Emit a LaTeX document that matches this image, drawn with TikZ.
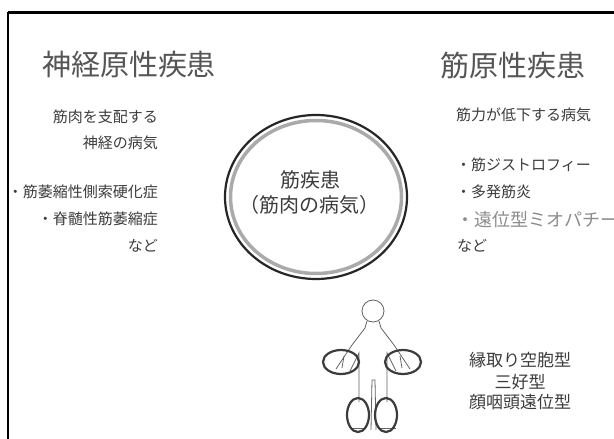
\documentclass[tikz,border=0pt]{standalone}
\usepackage{fontspec}
\setmainfont{Noto Sans CJK JP}
\usetikzlibrary{positioning}
\definecolor{textgray}{RGB}{60,60,60}
\definecolor{titlegray}{RGB}{85,85,85}
\definecolor{ringgray}{RGB}{170,170,170}
\definecolor{palegray}{RGB}{140,140,140}

\begin{document}
\begin{tikzpicture}[x=1pt, y=-1pt,
    title/.style={text=titlegray, font=\fontsize{29}{32}\selectfont, inner sep=0pt},
    note/.style={text=textgray, font=\fontsize{15}{18}\selectfont, inner sep=0pt},
    bignote/.style={text=textgray, font=\fontsize{20}{24}\selectfont, inner sep=0pt},
    outline/.style={draw=textgray!80, line width=0.8pt},
    marker/.style={draw=textgray, line width=2.2pt},
    ring/.style={draw=black!85, line width=2.2pt}]
  \useasboundingbox (0,0) rectangle (614,439);
  \fill[white] (0,0) rectangle (614,439);
  \draw[line width=3pt] (8,12) -- (620,12);
  \draw[line width=2pt] (8,12) -- (8,445);

  % left column
  \node[title] (neuroTitle) at (129,65) {神経原性疾患};
  \node[note, anchor=east] (neuroA) at (158,117) {筋肉を支配する};
  \node[note, anchor=east] (neuroB) at (158,143) {神経の病気};
  \node[note, anchor=east] (neuroC) at (158,192) {・筋萎縮性側索硬化症};
  \node[note, anchor=east] (neuroD) at (158,219) {・脊髄性筋萎縮症};
  \node[note, anchor=east] (neuroE) at (158,246) {など};

  % right column
  \node[title] (myoTitle) at (513,65) {筋原性疾患};
  \node[note, anchor=west] (myoA) at (456,115) {筋力が低下する病気};
  \node[note, anchor=west] (myoB) at (456,165) {・筋ジストロフィー};
  \node[note, anchor=west] (myoC) at (456,192) {・多発筋炎};
  \node[note, anchor=west, text=palegray, font=\fontsize{18}{22}\selectfont] (myoD) at (456,220) {・遠位型ミオパチー};
  \node[note, anchor=west] (myoE) at (457,246) {など};

  % centre ring
  \draw[ring] (316,197) ellipse [x radius=91pt, y radius=82pt];
  \draw[draw=ringgray, line width=3.5pt] (316,197) ellipse [x radius=85.5pt, y radius=76.5pt];
  \node[bignote] (myoCenter) at (310,180) {筋疾患};
  \node[bignote] (myoCenterB) at (309,205) {（筋肉の病気）};

  % body figure
  \draw[outline] (373,311) circle [radius=11pt];
  \draw[outline] (367,321) -- (365,328) -- (352,345) -- (336,369);
  \draw[outline] (350,371) -- (359,353) -- (359,402);
  \draw[outline] (379,321) -- (381,328) -- (394,345) -- (410,369);
  \draw[outline] (396,371) -- (387,353) -- (387,402);
  \draw[outline] (371,430) -- (372,380) -- (375,380) -- (376,430);
  \draw[outline] (344,356) -- (342,368);
  \draw[outline] (400,356) -- (402,368);
  \draw[outline] (350,428) -- (366,428);
  \draw[outline] (380,428) -- (396,428);
  \draw[marker] (341,362) ellipse [x radius=18pt, y radius=12pt];
  \draw[marker] (403,362) ellipse [x radius=18pt, y radius=12pt];
  \draw[marker] (358,415) ellipse [x radius=11pt, y radius=17pt];
  \draw[marker] (386,415) ellipse [x radius=11pt, y radius=17pt];

  \node[note, font=\fontsize{17}{20}\selectfont] (typeA) at (520,360) {縁取り空胞型};
  \node[note, font=\fontsize{17}{20}\selectfont] (typeB) at (520,382) {三好型};
  \node[note, font=\fontsize{17}{20}\selectfont] (typeC) at (520,402) {顔咽頭遠位型};
\end{tikzpicture}
\end{document}
